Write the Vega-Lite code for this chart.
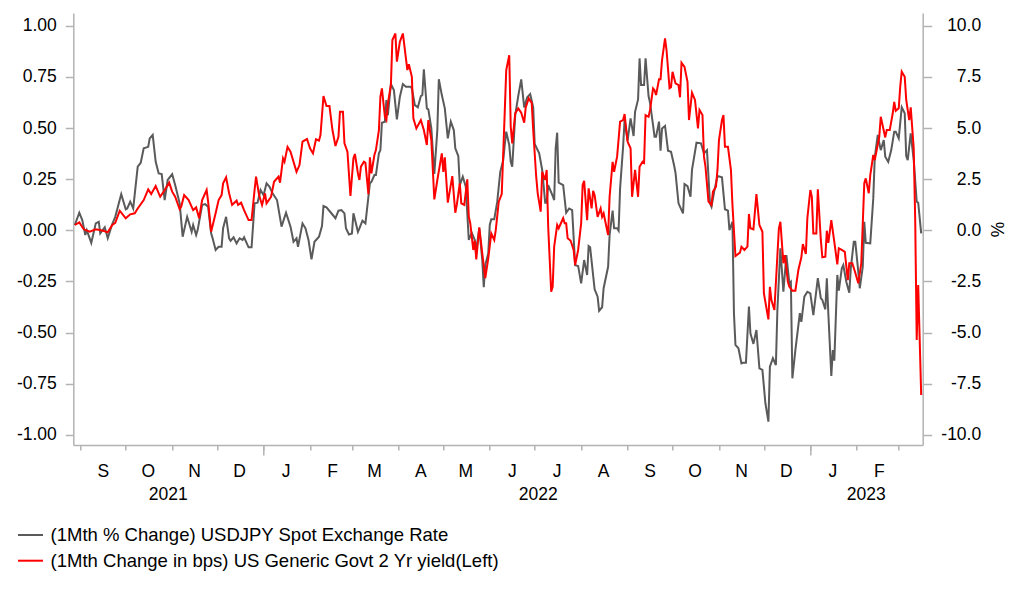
{
"$schema": "https://vega.github.io/schema/vega-lite/v6.json",
"width": 849.4,
"height": 432,
"autosize": "none",
"padding": {"left": 73.3, "top": 13, "right": 99.3, "bottom": 152},
"datasets": {
"fx": [
{"d":"2021-08-28","v":0.26},{"d":"2021-08-31","v":0.86},{"d":"2021-09-02","v":0.50},{"d":"2021-09-04","v":-0.23},{"d":"2021-09-05","v":0.01},{"d":"2021-09-08","v":-0.61},{"d":"2021-09-11","v":0.34},{"d":"2021-09-13","v":0.42},{"d":"2021-09-14","v":-0.15},{"d":"2021-09-17","v":0.15},{"d":"2021-09-19","v":-0.39},{"d":"2021-09-22","v":0.31},{"d":"2021-09-24","v":0.66},{"d":"2021-09-28","v":1.77},{"d":"2021-10-01","v":1.03},{"d":"2021-10-02","v":1.07},{"d":"2021-10-04","v":1.40},{"d":"2021-10-06","v":1.07},{"d":"2021-10-09","v":3.11},{"d":"2021-10-11","v":3.30},{"d":"2021-10-13","v":4.01},{"d":"2021-10-16","v":4.08},{"d":"2021-10-17","v":4.49},{"d":"2021-10-19","v":4.66},{"d":"2021-10-21","v":3.35},{"d":"2021-10-23","v":2.78},{"d":"2021-10-25","v":2.75},{"d":"2021-10-27","v":1.48},{"d":"2021-10-29","v":2.46},{"d":"2021-11-01","v":2.74},{"d":"2021-11-03","v":2.21},{"d":"2021-11-06","v":1.32},{"d":"2021-11-08","v":-0.31},{"d":"2021-11-11","v":0.66},{"d":"2021-11-14","v":-0.07},{"d":"2021-11-15","v":0.26},{"d":"2021-11-17","v":-0.23},{"d":"2021-11-18","v":0.01},{"d":"2021-11-21","v":1.24},{"d":"2021-11-23","v":1.28},{"d":"2021-11-25","v":1.15},{"d":"2021-11-27","v":-0.15},{"d":"2021-11-28","v":-0.39},{"d":"2021-11-30","v":-0.96},{"d":"2021-12-02","v":-0.80},{"d":"2021-12-04","v":-0.80},{"d":"2021-12-05","v":0.10},{"d":"2021-12-07","v":0.66},{"d":"2021-12-09","v":-0.39},{"d":"2021-12-10","v":-0.51},{"d":"2021-12-12","v":-0.34},{"d":"2021-12-14","v":-0.64},{"d":"2021-12-16","v":-0.39},{"d":"2021-12-18","v":-0.47},{"d":"2021-12-19","v":-0.34},{"d":"2021-12-22","v":-0.83},{"d":"2021-12-24","v":-0.83},{"d":"2021-12-26","v":1.32},{"d":"2021-12-28","v":1.35},{"d":"2021-12-30","v":1.97},
{"d":"2022-01-01","v":1.72},{"d":"2022-01-03","v":2.30},{"d":"2022-01-05","v":2.13},{"d":"2022-01-07","v":1.81},{"d":"2022-01-10","v":1.48},{"d":"2022-01-13","v":0.18},{"d":"2022-01-16","v":0.86},{"d":"2022-01-19","v":0.18},{"d":"2022-01-21","v":-0.56},{"d":"2022-01-23","v":-0.39},{"d":"2022-01-24","v":-0.80},{"d":"2022-01-27","v":0.34},{"d":"2022-01-29","v":0.10},{"d":"2022-01-31","v":-0.47},{"d":"2022-02-02","v":-1.42},{"d":"2022-02-04","v":-0.56},{"d":"2022-02-07","v":-0.31},{"d":"2022-02-09","v":0.21},{"d":"2022-02-10","v":1.19},{"d":"2022-02-12","v":1.12},{"d":"2022-02-15","v":0.86},{"d":"2022-02-18","v":0.59},{"d":"2022-02-20","v":0.96},{"d":"2022-02-22","v":0.99},{"d":"2022-02-24","v":0.83},{"d":"2022-02-25","v":0.10},{"d":"2022-02-27","v":-0.20},{"d":"2022-03-01","v":-0.15},{"d":"2022-03-02","v":0.83},{"d":"2022-03-05","v":-0.07},{"d":"2022-03-06","v":0.10},{"d":"2022-03-08","v":0.47},{"d":"2022-03-10","v":0.34},{"d":"2022-03-11","v":0.99},{"d":"2022-03-13","v":2.30},{"d":"2022-03-14","v":2.37},{"d":"2022-03-16","v":2.70},{"d":"2022-03-17","v":2.70},{"d":"2022-03-19","v":3.76},{"d":"2022-03-20","v":3.92},{"d":"2022-03-21","v":5.26},{"d":"2022-03-23","v":5.31},{"d":"2022-03-24","v":6.37},{"d":"2022-03-25","v":5.63},{"d":"2022-03-27","v":7.15},{"d":"2022-03-29","v":6.85},{"d":"2022-03-31","v":5.42},{"d":"2022-04-02","v":6.53},{"d":"2022-04-04","v":7.15},{"d":"2022-04-06","v":7.02},{"d":"2022-04-09","v":7.02},{"d":"2022-04-10","v":6.94},{"d":"2022-04-12","v":6.12},{"d":"2022-04-14","v":6.01},{"d":"2022-04-16","v":6.56},{"d":"2022-04-17","v":6.61},{"d":"2022-04-18","v":7.87},{"d":"2022-04-20","v":5.96},{"d":"2022-04-21","v":5.91},{"d":"2022-04-23","v":4.98},{"d":"2022-04-25","v":2.75},{"d":"2022-04-27","v":4.90},{"d":"2022-04-28","v":7.38},{"d":"2022-04-30","v":6.61},{"d":"2022-05-02","v":5.96},{"d":"2022-05-04","v":4.49},{"d":"2022-05-06","v":5.31},{"d":"2022-05-08","v":4.90},{"d":"2022-05-09","v":4.01},{"d":"2022-05-11","v":3.63},{"d":"2022-05-12","v":2.21},{"d":"2022-05-14","v":2.62},{"d":"2022-05-16","v":2.13},{"d":"2022-05-18","v":-0.47},{"d":"2022-05-20","v":-0.12},{"d":"2022-05-22","v":-0.47},{"d":"2022-05-23","v":-0.96},{"d":"2022-05-25","v":0.10},{"d":"2022-05-27","v":-1.45},{"d":"2022-05-28","v":-2.78},{"d":"2022-05-29","v":-1.70},{"d":"2022-05-31","v":-1.12},{"d":"2022-06-01","v":0.26},{"d":"2022-06-02","v":0.54},{"d":"2022-06-04","v":0.54},{"d":"2022-06-06","v":1.40},{"d":"2022-06-08","v":2.86},{"d":"2022-06-10","v":3.43},{"d":"2022-06-11","v":4.17},{"d":"2022-06-12","v":4.82},{"d":"2022-06-14","v":4.17},{"d":"2022-06-15","v":3.35},{"d":"2022-06-16","v":3.11},{"d":"2022-06-18","v":5.63},{"d":"2022-06-20","v":6.56},{"d":"2022-06-22","v":7.38},{"d":"2022-06-24","v":6.01},{"d":"2022-06-26","v":6.50},{"d":"2022-06-28","v":6.66},{"d":"2022-06-30","v":6.01},{"d":"2022-07-01","v":4.22},{"d":"2022-07-04","v":3.76},{"d":"2022-07-06","v":2.95},{"d":"2022-07-08","v":1.35},{"d":"2022-07-09","v":1.35},{"d":"2022-07-10","v":2.21},{"d":"2022-07-13","v":1.68},{"d":"2022-07-14","v":1.48},{"d":"2022-07-15","v":4.01},{"d":"2022-07-16","v":4.77},{"d":"2022-07-17","v":2.33},{"d":"2022-07-20","v":2.21},{"d":"2022-07-22","v":0.86},{"d":"2022-07-24","v":1.07},{"d":"2022-07-26","v":0.99},{"d":"2022-07-28","v":-1.70},{"d":"2022-07-30","v":-1.74},{"d":"2022-08-01","v":-2.59},{"d":"2022-08-03","v":-1.45},{"d":"2022-08-05","v":-2.18},{"d":"2022-08-06","v":-0.77},{"d":"2022-08-07","v":-0.83},{"d":"2022-08-10","v":-2.88},{"d":"2022-08-12","v":-3.24},{"d":"2022-08-13","v":-3.93},{"d":"2022-08-15","v":-3.76},{"d":"2022-08-16","v":-2.83},{"d":"2022-08-19","v":-1.78},{"d":"2022-08-20","v":-0.23},{"d":"2022-08-22","v":0.96},{"d":"2022-08-23","v":0.10},{"d":"2022-08-25","v":0.10},{"d":"2022-08-26","v":-0.02},{"d":"2022-08-27","v":2.05},{"d":"2022-08-29","v":4.08},{"d":"2022-08-30","v":5.39},{"d":"2022-09-01","v":4.38},{"d":"2022-09-03","v":5.47},{"d":"2022-09-05","v":4.61},{"d":"2022-09-06","v":5.79},{"d":"2022-09-08","v":6.40},{"d":"2022-09-09","v":8.40},{"d":"2022-09-10","v":7.10},{"d":"2022-09-12","v":7.10},{"d":"2022-09-13","v":8.40},{"d":"2022-09-15","v":6.56},{"d":"2022-09-16","v":6.23},{"d":"2022-09-18","v":5.14},{"d":"2022-09-19","v":4.57},{"d":"2022-09-20","v":4.57},{"d":"2022-09-22","v":5.31},{"d":"2022-09-23","v":3.89},{"d":"2022-09-24","v":4.98},{"d":"2022-09-26","v":5.10},{"d":"2022-09-28","v":3.89},{"d":"2022-09-30","v":3.84},{"d":"2022-10-02","v":3.19},{"d":"2022-10-03","v":2.81},{"d":"2022-10-05","v":1.32},{"d":"2022-10-08","v":0.83},{"d":"2022-10-09","v":2.26},{"d":"2022-10-11","v":2.16},{"d":"2022-10-13","v":1.64},{"d":"2022-10-14","v":2.95},{"d":"2022-10-17","v":4.28},{"d":"2022-10-20","v":4.25},{"d":"2022-10-22","v":3.76},{"d":"2022-10-24","v":3.92},{"d":"2022-10-26","v":1.32},{"d":"2022-10-27","v":1.15},{"d":"2022-10-29","v":1.97},{"d":"2022-10-31","v":2.65},{"d":"2022-11-03","v":2.59},{"d":"2022-11-05","v":1.03},{"d":"2022-11-07","v":0.96},{"d":"2022-11-08","v":0.01},{"d":"2022-11-10","v":0.42},{"d":"2022-11-11","v":-4.05},{"d":"2022-11-12","v":-5.60},{"d":"2022-11-14","v":-5.76},{"d":"2022-11-16","v":-6.50},{"d":"2022-11-17","v":-6.47},{"d":"2022-11-19","v":-6.47},{"d":"2022-11-21","v":-3.73},{"d":"2022-11-22","v":-5.03},{"d":"2022-11-24","v":-5.55},{"d":"2022-11-26","v":-4.87},{"d":"2022-11-28","v":-6.74},{"d":"2022-11-30","v":-6.82},{"d":"2022-12-02","v":-8.45},{"d":"2022-12-04","v":-9.35},{"d":"2022-12-05","v":-6.66},{"d":"2022-12-07","v":-6.25},{"d":"2022-12-09","v":-6.58},{"d":"2022-12-10","v":-3.89},{"d":"2022-12-12","v":-0.88},{"d":"2022-12-14","v":-3.00},{"d":"2022-12-16","v":-1.21},{"d":"2022-12-18","v":-2.59},{"d":"2022-12-19","v":-2.51},{"d":"2022-12-20","v":-7.23},{"d":"2022-12-22","v":-5.85},{"d":"2022-12-25","v":-4.05},{"d":"2022-12-26","v":-4.47},{"d":"2022-12-28","v":-3.24},{"d":"2022-12-30","v":-3.00},
{"d":"2023-01-01","v":-3.08},{"d":"2023-01-03","v":-4.14},{"d":"2023-01-06","v":-2.34},{"d":"2023-01-08","v":-3.32},{"d":"2023-01-09","v":-3.40},{"d":"2023-01-11","v":-3.86},{"d":"2023-01-12","v":-2.34},{"d":"2023-01-13","v":-4.05},{"d":"2023-01-15","v":-7.12},{"d":"2023-01-16","v":-5.85},{"d":"2023-01-17","v":-6.37},{"d":"2023-01-19","v":-2.18},{"d":"2023-01-20","v":-2.95},{"d":"2023-01-22","v":-1.86},{"d":"2023-01-23","v":-1.70},{"d":"2023-01-25","v":-2.51},{"d":"2023-01-27","v":-3.05},{"d":"2023-01-28","v":-1.86},{"d":"2023-01-30","v":-0.56},{"d":"2023-01-31","v":-0.56},{"d":"2023-02-02","v":-2.02},{"d":"2023-02-03","v":-2.83},{"d":"2023-02-05","v":-1.78},{"d":"2023-02-06","v":0.42},{"d":"2023-02-07","v":-0.61},{"d":"2023-02-10","v":-0.64},{"d":"2023-02-12","v":1.56},{"d":"2023-02-13","v":3.57},{"d":"2023-02-15","v":4.66},{"d":"2023-02-17","v":3.92},{"d":"2023-02-19","v":4.41},{"d":"2023-02-20","v":3.60},{"d":"2023-02-22","v":3.35},{"d":"2023-02-24","v":3.92},{"d":"2023-02-26","v":4.82},{"d":"2023-02-27","v":4.82},{"d":"2023-03-01","v":4.49},{"d":"2023-03-03","v":6.01},{"d":"2023-03-05","v":5.72},{"d":"2023-03-06","v":3.63},{"d":"2023-03-07","v":3.43},{"d":"2023-03-09","v":4.74},{"d":"2023-03-11","v":3.43},{"d":"2023-03-13","v":1.40},{"d":"2023-03-14","v":1.35},{"d":"2023-03-16","v":-0.15}
],
"ust": [
{"d":"2021-08-28","v":0.026},{"d":"2021-08-31","v":0.039},{"d":"2021-09-03","v":0.005},{"d":"2021-09-07","v":-0.007},{"d":"2021-09-11","v":0.005},{"d":"2021-09-16","v":-0.002},{"d":"2021-09-19","v":-0.010},{"d":"2021-09-22","v":0.026},{"d":"2021-09-24","v":0.037},{"d":"2021-09-27","v":0.096},{"d":"2021-10-01","v":0.059},{"d":"2021-10-04","v":0.078},{"d":"2021-10-07","v":0.083},{"d":"2021-10-09","v":0.107},{"d":"2021-10-13","v":0.148},{"d":"2021-10-16","v":0.200},{"d":"2021-10-18","v":0.177},{"d":"2021-10-21","v":0.216},{"d":"2021-10-24","v":0.164},{"d":"2021-10-27","v":0.197},{"d":"2021-10-30","v":0.233},{"d":"2021-11-01","v":0.189},{"d":"2021-11-03","v":0.164},{"d":"2021-11-06","v":0.103},{"d":"2021-11-07","v":0.115},{"d":"2021-11-09","v":0.172},{"d":"2021-11-12","v":0.148},{"d":"2021-11-15","v":0.099},{"d":"2021-11-17","v":0.112},{"d":"2021-11-19","v":0.059},{"d":"2021-11-21","v":0.148},{"d":"2021-11-24","v":0.197},{"d":"2021-11-25","v":0.140},{"d":"2021-11-27","v":-0.007},{"d":"2021-11-30","v":0.083},{"d":"2021-12-02","v":0.148},{"d":"2021-12-04","v":0.172},{"d":"2021-12-05","v":0.230},{"d":"2021-12-07","v":0.259},{"d":"2021-12-09","v":0.181},{"d":"2021-12-11","v":0.124},{"d":"2021-12-14","v":0.145},{"d":"2021-12-15","v":0.124},{"d":"2021-12-17","v":0.135},{"d":"2021-12-19","v":0.099},{"d":"2021-12-22","v":0.050},{"d":"2021-12-24","v":0.050},{"d":"2021-12-26","v":0.197},{"d":"2021-12-27","v":0.262},{"d":"2021-12-29","v":0.172},{"d":"2021-12-31","v":0.124},
{"d":"2022-01-02","v":0.181},{"d":"2022-01-03","v":0.132},{"d":"2022-01-06","v":0.164},{"d":"2022-01-08","v":0.237},{"d":"2022-01-11","v":0.262},{"d":"2022-01-12","v":0.233},{"d":"2022-01-14","v":0.352},{"d":"2022-01-15","v":0.335},{"d":"2022-01-17","v":0.408},{"d":"2022-01-19","v":0.384},{"d":"2022-01-23","v":0.286},{"d":"2022-01-25","v":0.319},{"d":"2022-01-27","v":0.433},{"d":"2022-01-30","v":0.446},{"d":"2022-02-01","v":0.401},{"d":"2022-02-03","v":0.376},{"d":"2022-02-05","v":0.445},{"d":"2022-02-07","v":0.438},{"d":"2022-02-08","v":0.466},{"d":"2022-02-10","v":0.656},{"d":"2022-02-12","v":0.607},{"d":"2022-02-14","v":0.607},{"d":"2022-02-16","v":0.490},{"d":"2022-02-18","v":0.412},{"d":"2022-02-20","v":0.457},{"d":"2022-02-21","v":0.579},{"d":"2022-02-23","v":0.579},{"d":"2022-02-24","v":0.425},{"d":"2022-02-26","v":0.384},{"d":"2022-02-28","v":0.168},{"d":"2022-03-02","v":0.352},{"d":"2022-03-03","v":0.373},{"d":"2022-03-05","v":0.278},{"d":"2022-03-06","v":0.246},{"d":"2022-03-07","v":0.311},{"d":"2022-03-09","v":0.335},{"d":"2022-03-10","v":0.330},{"d":"2022-03-12","v":0.177},{"d":"2022-03-13","v":0.357},{"d":"2022-03-14","v":0.278},{"d":"2022-03-16","v":0.368},{"d":"2022-03-17","v":0.392},{"d":"2022-03-19","v":0.490},{"d":"2022-03-20","v":0.653},{"d":"2022-03-21","v":0.694},{"d":"2022-03-23","v":0.555},{"d":"2022-03-24","v":0.539},{"d":"2022-03-25","v":0.620},{"d":"2022-03-27","v":0.710},{"d":"2022-03-28","v":0.930},{"d":"2022-03-30","v":0.962},{"d":"2022-03-31","v":0.824},{"d":"2022-04-02","v":0.921},{"d":"2022-04-04","v":0.962},{"d":"2022-04-07","v":0.783},{"d":"2022-04-08","v":0.812},{"d":"2022-04-10","v":0.750},{"d":"2022-04-11","v":0.547},{"d":"2022-04-13","v":0.498},{"d":"2022-04-16","v":0.539},{"d":"2022-04-18","v":0.490},{"d":"2022-04-20","v":0.417},{"d":"2022-04-21","v":0.539},{"d":"2022-04-23","v":0.441},{"d":"2022-04-25","v":0.151},{"d":"2022-04-27","v":0.246},{"d":"2022-04-30","v":0.376},{"d":"2022-05-01","v":0.286},{"d":"2022-05-02","v":0.357},{"d":"2022-05-04","v":0.135},{"d":"2022-05-07","v":0.265},{"d":"2022-05-09","v":0.086},{"d":"2022-05-10","v":0.124},{"d":"2022-05-12","v":0.230},{"d":"2022-05-13","v":0.132},{"d":"2022-05-15","v":0.124},{"d":"2022-05-17","v":0.249},{"d":"2022-05-18","v":0.066},{"d":"2022-05-19","v":0.034},{"d":"2022-05-21","v":-0.096},{"d":"2022-05-22","v":-0.051},{"d":"2022-05-23","v":-0.142},{"d":"2022-05-25","v":0.015},{"d":"2022-05-27","v":-0.112},{"d":"2022-05-29","v":-0.234},{"d":"2022-05-31","v":-0.137},{"d":"2022-06-02","v":-0.015},{"d":"2022-06-04","v":-0.047},{"d":"2022-06-05","v":0.001},{"d":"2022-06-07","v":0.140},{"d":"2022-06-09","v":0.177},{"d":"2022-06-11","v":0.579},{"d":"2022-06-12","v":0.783},{"d":"2022-06-14","v":0.856},{"d":"2022-06-15","v":0.506},{"d":"2022-06-16","v":0.425},{"d":"2022-06-18","v":0.572},{"d":"2022-06-20","v":0.596},{"d":"2022-06-22","v":0.575},{"d":"2022-06-24","v":0.526},{"d":"2022-06-25","v":0.601},{"d":"2022-06-27","v":0.645},{"d":"2022-06-29","v":0.623},{"d":"2022-06-30","v":0.490},{"d":"2022-07-02","v":0.262},{"d":"2022-07-03","v":0.181},{"d":"2022-07-05","v":0.091},{"d":"2022-07-06","v":0.286},{"d":"2022-07-08","v":0.246},{"d":"2022-07-09","v":0.295},{"d":"2022-07-10","v":0.018},{"d":"2022-07-12","v":-0.300},{"d":"2022-07-13","v":-0.276},{"d":"2022-07-14","v":-0.080},{"d":"2022-07-16","v":0.026},{"d":"2022-07-17","v":0.010},{"d":"2022-07-20","v":0.059},{"d":"2022-07-21","v":0.034},{"d":"2022-07-22","v":0.034},{"d":"2022-07-23","v":-0.039},{"d":"2022-07-25","v":-0.051},{"d":"2022-07-27","v":-0.096},{"d":"2022-07-28","v":-0.170},{"d":"2022-07-30","v":-0.096},{"d":"2022-08-01","v":0.034},{"d":"2022-08-02","v":0.221},{"d":"2022-08-03","v":0.242},{"d":"2022-08-05","v":0.050},{"d":"2022-08-06","v":0.205},{"d":"2022-08-08","v":0.107},{"d":"2022-08-09","v":0.193},{"d":"2022-08-10","v":0.172},{"d":"2022-08-12","v":0.066},{"d":"2022-08-14","v":0.107},{"d":"2022-08-15","v":0.066},{"d":"2022-08-16","v":0.083},{"d":"2022-08-19","v":-0.023},{"d":"2022-08-20","v":0.164},{"d":"2022-08-22","v":0.335},{"d":"2022-08-23","v":0.286},{"d":"2022-08-25","v":0.360},{"d":"2022-08-27","v":0.531},{"d":"2022-08-29","v":0.539},{"d":"2022-08-30","v":0.568},{"d":"2022-09-01","v":0.433},{"d":"2022-09-03","v":0.401},{"d":"2022-09-04","v":0.164},{"d":"2022-09-06","v":0.295},{"d":"2022-09-08","v":0.164},{"d":"2022-09-09","v":0.311},{"d":"2022-09-11","v":0.335},{"d":"2022-09-12","v":0.330},{"d":"2022-09-13","v":0.563},{"d":"2022-09-15","v":0.555},{"d":"2022-09-16","v":0.588},{"d":"2022-09-18","v":0.694},{"d":"2022-09-19","v":0.685},{"d":"2022-09-20","v":0.661},{"d":"2022-09-22","v":0.738},{"d":"2022-09-23","v":0.738},{"d":"2022-09-24","v":0.832},{"d":"2022-09-26","v":0.938},{"d":"2022-09-27","v":0.881},{"d":"2022-09-29","v":0.694},{"d":"2022-09-30","v":0.699},{"d":"2022-10-01","v":0.775},{"d":"2022-10-03","v":0.718},{"d":"2022-10-05","v":0.710},{"d":"2022-10-06","v":0.650},{"d":"2022-10-07","v":0.819},{"d":"2022-10-09","v":0.799},{"d":"2022-10-11","v":0.726},{"d":"2022-10-12","v":0.539},{"d":"2022-10-14","v":0.672},{"d":"2022-10-16","v":0.637},{"d":"2022-10-18","v":0.498},{"d":"2022-10-19","v":0.588},{"d":"2022-10-21","v":0.563},{"d":"2022-10-22","v":0.360},{"d":"2022-10-23","v":0.311},{"d":"2022-10-25","v":0.140},{"d":"2022-10-27","v":0.124},{"d":"2022-10-28","v":0.189},{"d":"2022-10-30","v":0.213},{"d":"2022-10-31","v":0.295},{"d":"2022-11-01","v":0.441},{"d":"2022-11-03","v":0.539},{"d":"2022-11-04","v":0.563},{"d":"2022-11-05","v":0.408},{"d":"2022-11-07","v":0.408},{"d":"2022-11-09","v":0.295},{"d":"2022-11-10","v":0.124},{"d":"2022-11-12","v":-0.126},{"d":"2022-11-15","v":-0.109},{"d":"2022-11-16","v":-0.080},{"d":"2022-11-18","v":-0.096},{"d":"2022-11-20","v":-0.080},{"d":"2022-11-21","v":0.080},{"d":"2022-11-22","v":0.010},{"d":"2022-11-24","v":0.005},{"d":"2022-11-26","v":0.177},{"d":"2022-11-28","v":0.026},{"d":"2022-11-30","v":-0.007},{"d":"2022-12-01","v":-0.308},{"d":"2022-12-04","v":-0.435},{"d":"2022-12-05","v":-0.276},{"d":"2022-12-06","v":-0.341},{"d":"2022-12-08","v":-0.389},{"d":"2022-12-11","v":0.010},{"d":"2022-12-12","v":0.042},{"d":"2022-12-14","v":-0.161},{"d":"2022-12-15","v":-0.121},{"d":"2022-12-17","v":-0.251},{"d":"2022-12-18","v":-0.276},{"d":"2022-12-20","v":-0.295},{"d":"2022-12-22","v":-0.295},{"d":"2022-12-24","v":-0.194},{"d":"2022-12-26","v":-0.132},{"d":"2022-12-27","v":-0.067},{"d":"2022-12-29","v":-0.116},{"d":"2022-12-30","v":0.059},
{"d":"2023-01-01","v":0.197},{"d":"2023-01-02","v":0.164},{"d":"2023-01-03","v":-0.015},{"d":"2023-01-05","v":-0.015},{"d":"2023-01-06","v":0.200},{"d":"2023-01-08","v":-0.047},{"d":"2023-01-09","v":-0.132},{"d":"2023-01-11","v":-0.129},{"d":"2023-01-12","v":-0.002},{"d":"2023-01-13","v":-0.061},{"d":"2023-01-15","v":0.050},{"d":"2023-01-17","v":-0.056},{"d":"2023-01-19","v":-0.166},{"d":"2023-01-20","v":-0.088},{"d":"2023-01-22","v":-0.096},{"d":"2023-01-24","v":-0.105},{"d":"2023-01-26","v":-0.243},{"d":"2023-01-27","v":-0.161},{"d":"2023-01-29","v":-0.161},{"d":"2023-01-31","v":-0.207},{"d":"2023-02-02","v":-0.259},{"d":"2023-02-04","v":-0.161},{"d":"2023-02-06","v":0.230},{"d":"2023-02-07","v":0.254},{"d":"2023-02-09","v":0.181},{"d":"2023-02-10","v":0.270},{"d":"2023-02-12","v":0.368},{"d":"2023-02-13","v":0.343},{"d":"2023-02-16","v":0.457},{"d":"2023-02-17","v":0.555},{"d":"2023-02-20","v":0.454},{"d":"2023-02-21","v":0.490},{"d":"2023-02-23","v":0.490},{"d":"2023-02-25","v":0.572},{"d":"2023-02-26","v":0.628},{"d":"2023-02-27","v":0.584},{"d":"2023-03-01","v":0.596},{"d":"2023-03-02","v":0.702},{"d":"2023-03-03","v":0.775},{"d":"2023-03-05","v":0.750},{"d":"2023-03-06","v":0.637},{"d":"2023-03-08","v":0.539},{"d":"2023-03-09","v":0.601},{"d":"2023-03-11","v":0.401},{"d":"2023-03-12","v":0.050},{"d":"2023-03-13","v":-0.536},{"d":"2023-03-14","v":-0.267},{"d":"2023-03-16","v":-0.805}
]
},
"layer": [
{
"data": {"name": "fx"},
"mark": {"type": "line", "strokeWidth": 2},
"encoding": {
"x": {"field": "d", "type": "temporal",
"scale": {"domain": [{"year": 2021, "month": 8, "date": 27}, {"year": 2023, "month": 3, "date": 17}], "nice": false},
"axis": {"orient": "bottom", "title": null, "domain": false, "grid": false,
"values": [{"year": 2021, "month": 10, "date": 29}, {"year": 2022, "month": 1, "date": 1}, {"year": 2022, "month": 7, "date": 3}, {"year": 2023, "month": 1, "date": 1}, {"year": 2023, "month": 2, "date": 7}],
"tickSize": 10,
"tickOpacity": {"condition": {"test": "month(datum.value) == 0 && date(datum.value) == 1", "value": 1}, "value": 0},
"labelExpr": "month(datum.value) == 0 && date(datum.value) == 1 ? '' : timeFormat(datum.value, '%Y')",
"labelPadding": 30.5, "labelOverlap": false, "labelBound": false, "labelFlush": false}},
"y": {"field": "v", "type": "quantitative",
"scale": {"domain": [-10.49, 10.62], "nice": false, "zero": false},
"axis": {"orient": "right", "values": [-10, -7.5, -5, -2.5, 0, 2.5, 5, 7.5, 10], "format": ".1f",
"labelExpr": "replace(datum.label, '\u2212', '-')",
"tickSize": 9, "labelPadding": 49, "labelAlign": "right", "grid": false,
"title": "%", "titleFontSize": 17.5, "titleFontWeight": "normal", "titleFont": "Liberation Sans", "titleColor": "#000000", "titlePadding": 6}},
"color": {"datum": "(1Mth % Change) USDJPY Spot Exchange Rate",
"scale": {"domain": ["(1Mth % Change) USDJPY Spot Exchange Rate", "(1Mth Change in bps) US Generic Govt 2 Yr yield(Left)"], "range": ["#5a5a5a", "#ff0000"]},
"legend": {"orient": "none", "legendX": -56.3, "legendY": 508.5, "direction": "vertical", "title": null,
"symbolType": "stroke", "symbolSize": 625, "symbolStrokeWidth": 2, "labelFontSize": 18.5, "labelFont": "Liberation Sans",
"labelColor": "#000000", "labelOffset": 6.6, "rowPadding": 2.7, "padding": 0, "labelLimit": 1000}}
}
},
{
"data": {"name": "ust"},
"mark": {"type": "line", "strokeWidth": 2},
"encoding": {
"x": {"field": "d", "type": "temporal",
"scale": {"domain": [{"year": 2021, "month": 8, "date": 27}, {"year": 2023, "month": 3, "date": 17}], "nice": false},
"axis": {"orient": "bottom", "title": null, "grid": false,
"tickCount": {"interval": "month", "step": 1},
"tickSize": 5, "labelPadding": 12, "labelOffset": 22,
"labelExpr": "time(datum.value) >= time(datetime(2023, 2, 1)) ? '' : substring(timeFormat(datum.value, '%b'), 0, 1)",
"labelOverlap": false, "labelBound": false, "labelFlush": false}},
"y": {"field": "v", "type": "quantitative",
"scale": {"domain": [-1.049, 1.062], "nice": false, "zero": false},
"axis": {"orient": "left", "values": [-1, -0.75, -0.5, -0.25, 0, 0.25, 0.5, 0.75, 1], "format": ".2f",
"labelExpr": "replace(datum.label, '\u2212', '-')",
"tickSize": 8, "labelPadding": 9, "grid": false, "title": null}},
"color": {"datum": "(1Mth Change in bps) US Generic Govt 2 Yr yield(Left)"}
}
}
],
"resolve": {"scale": {"y": "independent"}, "axis": {"x": "independent", "y": "independent"}},
"config": {
"view": {"stroke": null},
"background": "#ffffff",
"axis": {"domainColor": "#b3b3b3", "tickColor": "#b3b3b3", "domainWidth": 1.5, "tickWidth": 1.5,
"labelFont": "Liberation Sans", "labelFontSize": 17.5, "labelColor": "#000000"}
}
}
